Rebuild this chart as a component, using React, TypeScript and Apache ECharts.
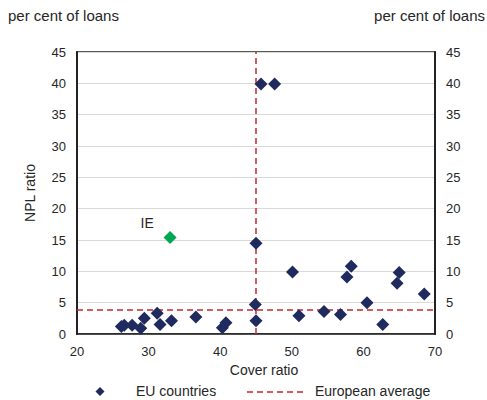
import React, { useEffect, useRef } from "react";
import * as echarts from "echarts";

const euCover = [26.2, 26.6, 27.7, 28.9, 29.4, 31.2, 31.6, 33.2, 36.6, 40.3, 40.8, 45.0, 44.9, 45.0, 45.7, 47.6, 50.1, 51.0, 54.5, 56.8, 57.7, 58.3, 60.5, 62.7, 64.7, 65.0, 68.5];
const euNpl = [1.2, 1.4, 1.4, 0.9, 2.5, 3.3, 1.5, 2.1, 2.7, 1.0, 1.8, 14.5, 4.7, 2.1, 39.9, 39.9, 9.9, 2.9, 3.6, 3.1, 9.1, 10.8, 5.0, 1.5, 8.1, 9.8, 6.4];
const ieCover = [33.0];
const ieNpl = [15.4];
const ieLabel = "IE";
const avgCover = 45.0;
const avgNpl = 3.85;
const yTitle = "NPL ratio";
const xTitle = "Cover ratio";
const unitLabel = "per cent of loans";
const legendNames = ["EU countries", "European average"];

const FONT = "Liberation Sans, Arial, sans-serif";
const NAVY = "#1f2a5e";
const RED = "#c8262e";
const TXT = "#262626";

export default function App() {
  const ref = useRef<HTMLDivElement>(null);
  useEffect(() => {
    const chart = echarts.init(ref.current!, null, { renderer: "svg" });
    const yAxisCommon = {
      type: "value",
      min: 0,
      max: 45,
      interval: 5,
      axisLine: { show: true, lineStyle: { color: "#222", width: 2 } },
      axisTick: { show: false },
      axisLabel: { color: TXT, fontSize: 13, fontFamily: FONT, margin: 11 },
    };
    chart.setOption({
      animation: false,
      textStyle: { fontFamily: FONT },
      grid: { left: 77, right: 52, top: 52, bottom: 66, show: true, borderColor: "#222", borderWidth: 1.5, backgroundColor: "transparent" },
      xAxis: {
        type: "value",
        min: 20,
        max: 70,
        interval: 10,
        name: xTitle,
        nameLocation: "middle",
        nameGap: 27,
        nameTextStyle: { color: TXT, fontSize: 14, fontFamily: FONT, padding: [0, 0, 0, 16] },
        axisLine: { show: true, lineStyle: { color: "#222", width: 1.5 } },
        axisTick: { show: false },
        splitLine: { show: false },
        axisLabel: { color: TXT, fontSize: 13, fontFamily: FONT, margin: 11 },
      },
      yAxis: [
        {
          ...yAxisCommon,
          position: "left",
          name: yTitle,
          nameLocation: "middle",
          nameGap: 40,
          nameTextStyle: { color: TXT, fontSize: 14, fontFamily: FONT },
          splitLine: { show: true, lineStyle: { color: "#d9d9d9", width: 1 } },
        },
        {
          ...yAxisCommon,
          position: "right",
          splitLine: { show: false },
        },
      ],
      series: [
        {
          name: legendNames[0],
          type: "scatter",
          symbol: "diamond",
          symbolSize: 13,
          itemStyle: { color: NAVY, opacity: 1 },
          data: euCover.map((c, i) => [c, euNpl[i]]),
          z: 3,
          markLine: {
            silent: true,
            symbol: "none",
            label: { show: false },
            lineStyle: { color: RED, type: [6, 4], width: 1.5, opacity: 1 },
            data: [{ xAxis: avgCover }, { yAxis: avgNpl }],
            z: 2,
          },
        },
        {
          name: "IE",
          type: "scatter",
          symbol: "diamond",
          symbolSize: 13,
          itemStyle: { color: "#00a650", opacity: 1 },
          data: ieCover.map((c, i) => [c, ieNpl[i]]),
          label: {
            show: true,
            formatter: ieLabel,
            position: [-23, -15],
            color: TXT,
            fontSize: 14,
            fontFamily: FONT,
          },
          z: 4,
        },
      ],
      graphic: [
        { type: "text", left: 8, top: 8, style: { text: unitLabel, fontSize: 15, fontFamily: FONT, fill: TXT } },
        { type: "text", right: 2, top: 8, style: { text: unitLabel, fontSize: 15, fontFamily: FONT, fill: TXT } },
        { type: "polygon", shape: { points: [[100, 387], [104.5, 391.5], [100, 396], [95.5, 391.5]] }, style: { fill: NAVY } },
        { type: "text", x: 136, y: 384, style: { text: legendNames[0], fontSize: 14, fontFamily: FONT, fill: TXT } },
        { type: "line", shape: { x1: 247, y1: 392, x2: 304, y2: 392 }, style: { stroke: RED, lineWidth: 1.5, lineDash: [6, 4] } },
        { type: "text", x: 315, y: 384, style: { text: legendNames[1], fontSize: 14, fontFamily: FONT, fill: TXT } },
      ],
    });
    return () => chart.dispose();
  }, []);
  return <div ref={ref} style={{ width: 487, height: 400, position: "absolute", left: 0, top: 0 }} />;
}
